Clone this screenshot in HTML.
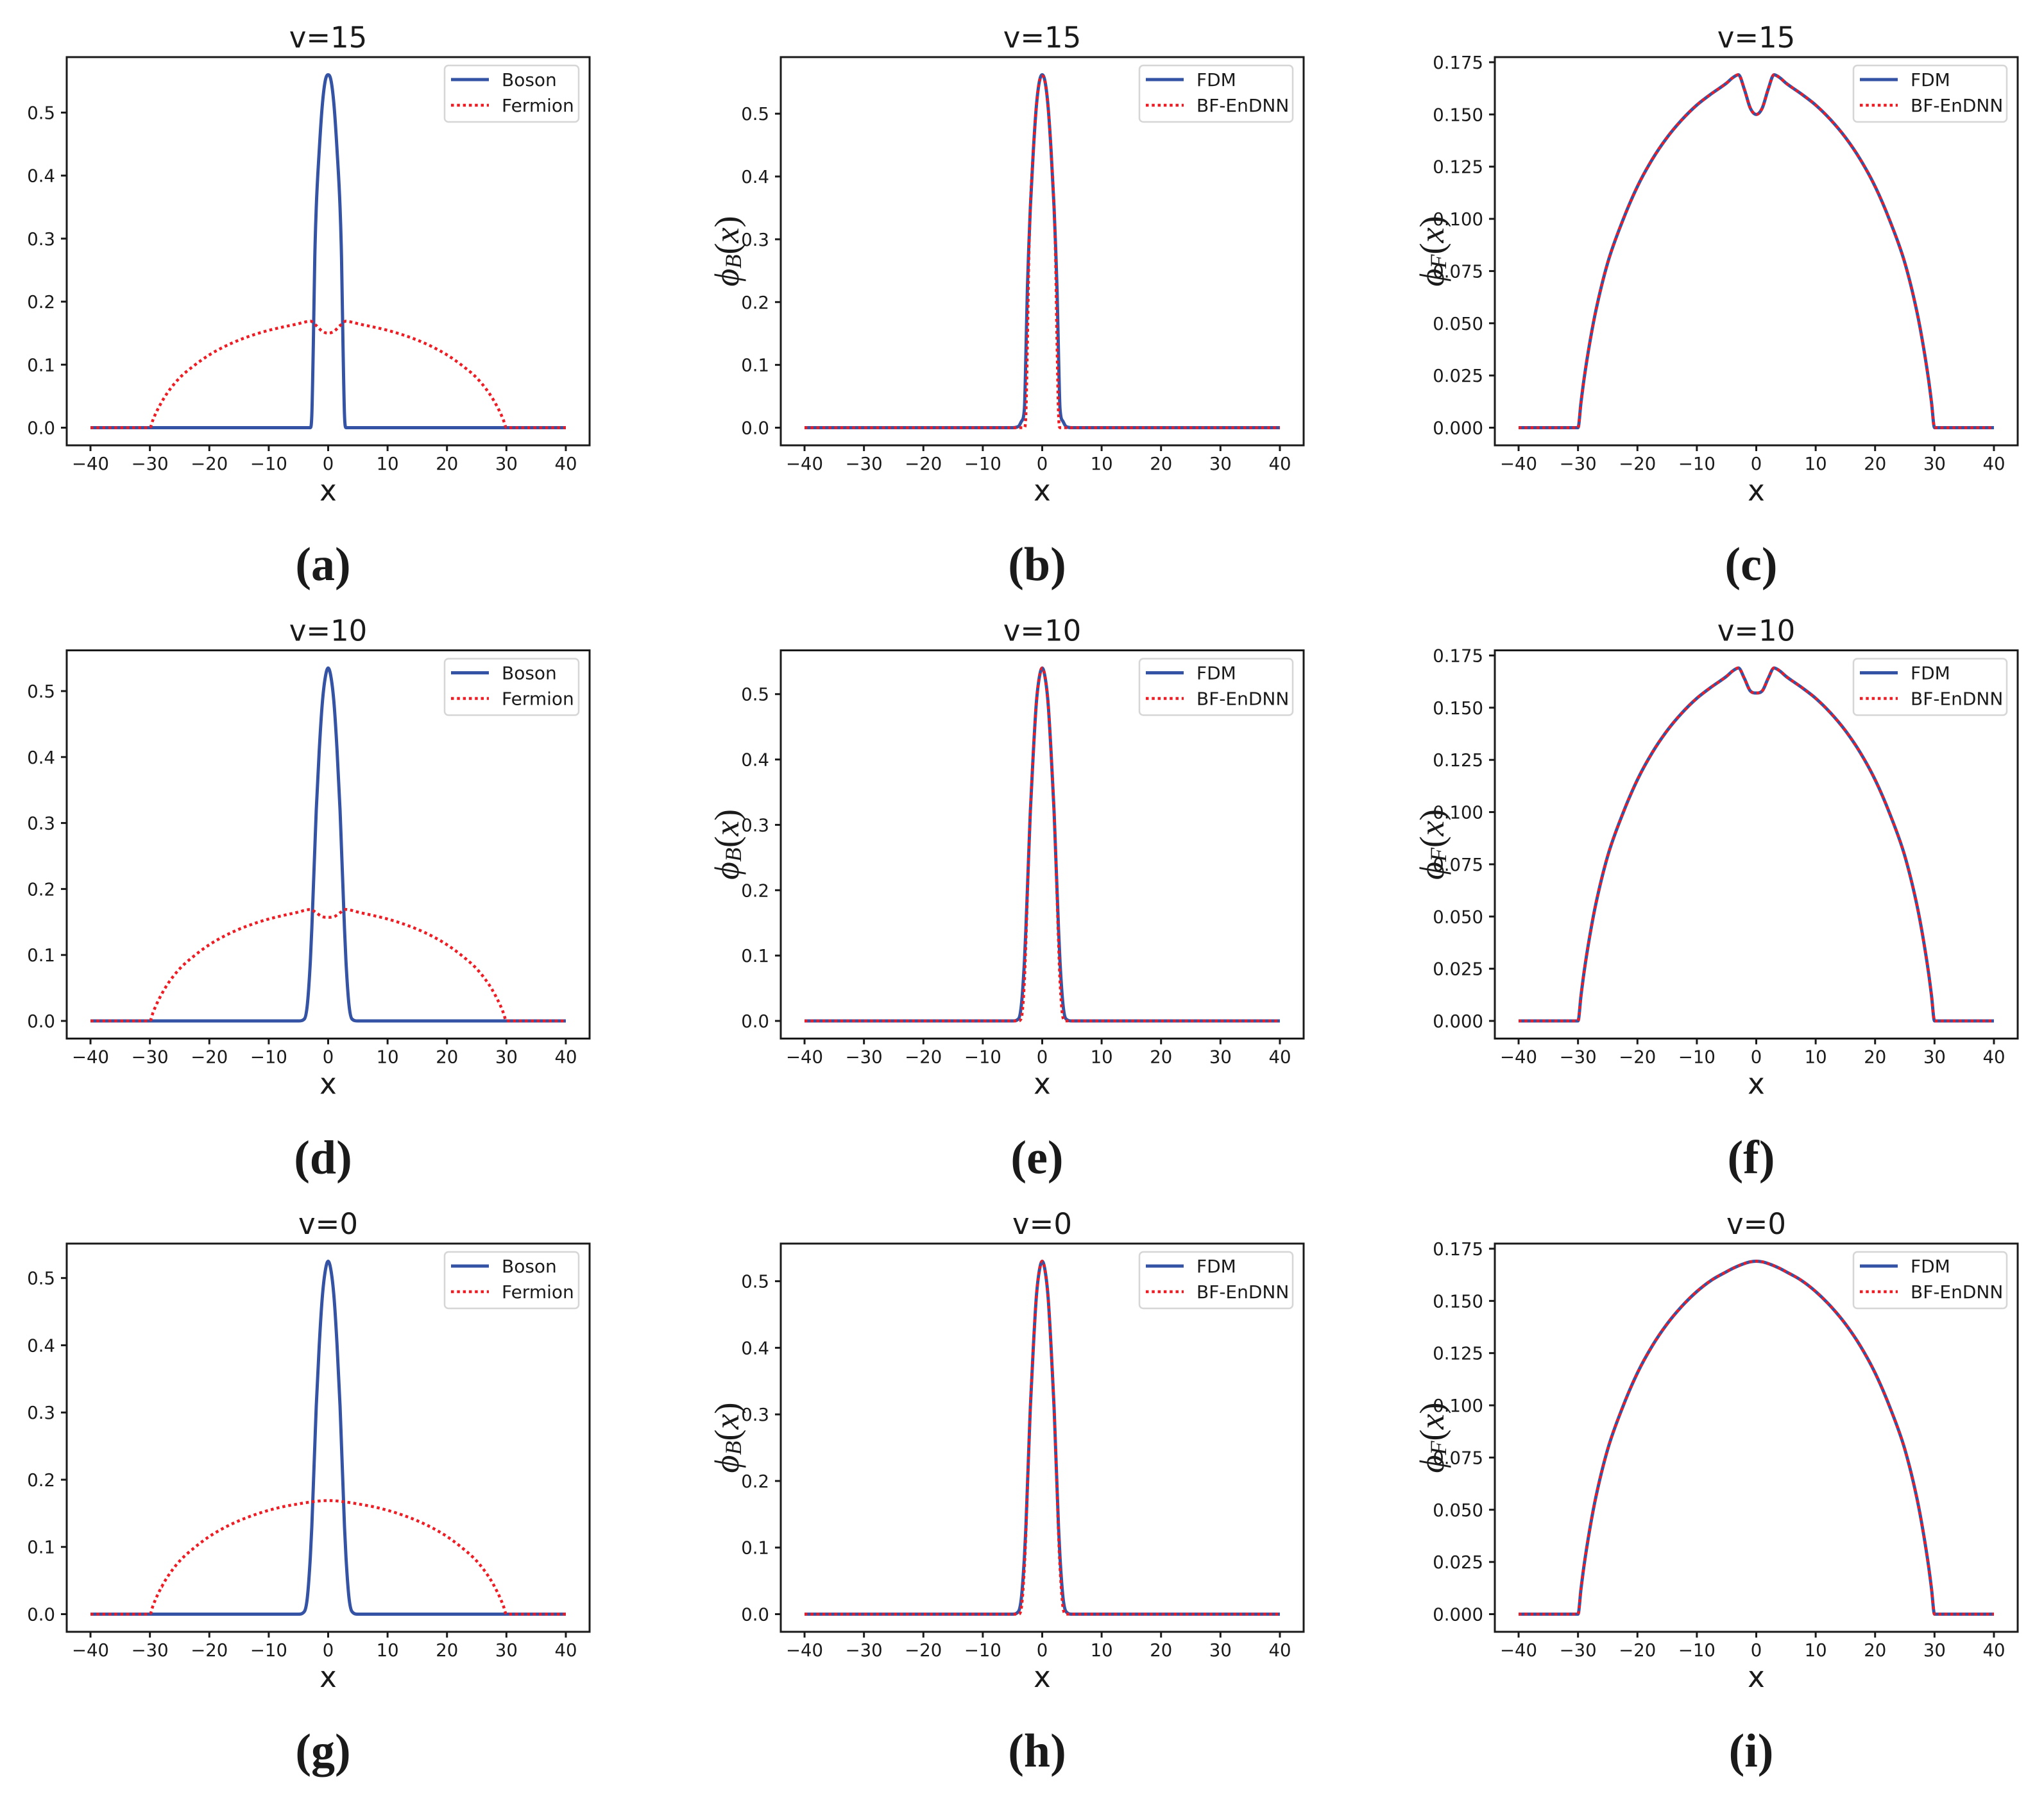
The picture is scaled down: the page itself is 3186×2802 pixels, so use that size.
<!DOCTYPE html>
<html><head><meta charset="utf-8"><title>Boson-Fermion profiles</title>
<style>
html,body{margin:0;padding:0;background:#fff;}
svg{display:block;}
</style></head>
<body>
<svg id="fig" xmlns="http://www.w3.org/2000/svg" width="3186" height="2802" viewBox="0 0 3186 2802"></svg>
<script>
// ---- data ----
const bosonX = [-40,-5,-4,-3.5,-3,-2.75,-2.5,-2.25,-2,-1.5,-1,-0.5,0,0.5,1,1.5,2,2.25,2.5,2.75,3,3.5,4,5,40];
const bosonSharpV15 = [0,0,0,0,0,0.02,0.13,0.27,0.35,0.44,0.51,0.55,0.56,0.55,0.51,0.44,0.35,0.27,0.13,0.02,0,0,0,0,0];
const bosonFdmV15   = [0,0,0.002,0.01,0.03,0.115,0.22,0.29,0.35,0.44,0.51,0.55,0.562,0.55,0.51,0.44,0.35,0.29,0.22,0.115,0.03,0.01,0.002,0,0];
const bosonV10      = [0,0,0.003,0.025,0.09,0.14,0.2,0.26,0.32,0.41,0.48,0.52,0.535,0.52,0.48,0.41,0.32,0.26,0.2,0.14,0.09,0.025,0.003,0,0];
const bosonFdmV10   = [0,0,0.003,0.025,0.09,0.14,0.2,0.26,0.32,0.41,0.485,0.525,0.54,0.525,0.485,0.41,0.32,0.26,0.2,0.14,0.09,0.025,0.003,0,0];
const bosonNetV10   = [0,0,0,0.005,0.06,0.12,0.19,0.26,0.32,0.41,0.485,0.525,0.54,0.525,0.485,0.41,0.32,0.26,0.19,0.12,0.06,0.005,0,0,0];
const bosonV0       = [0,0,0.004,0.025,0.085,0.13,0.19,0.25,0.31,0.4,0.47,0.51,0.525,0.51,0.47,0.4,0.31,0.25,0.19,0.13,0.085,0.025,0.004,0,0];
const bosonFdmV0    = [0,0,0.004,0.025,0.085,0.13,0.19,0.25,0.31,0.4,0.475,0.515,0.53,0.515,0.475,0.4,0.31,0.25,0.19,0.13,0.085,0.025,0.004,0,0];
const bosonNetV0    = [0,0,0,0.01,0.07,0.12,0.185,0.25,0.31,0.4,0.475,0.515,0.53,0.515,0.475,0.4,0.31,0.25,0.185,0.12,0.07,0.01,0,0,0];

const fermionX = [-40,-30,-29.5,-29,-28,-27,-25,-22.5,-20,-17.5,-15,-12.5,-10,-7.5,-5,-4,-3,-2,-1,0,1,2,3,4,5,7.5,10,12.5,15,17.5,20,22.5,25,27,28,29,29.5,30,40];
const fermionV15 = [0,0,0.012,0.023,0.041,0.056,0.079,0.099,0.1155,0.1285,0.139,0.1475,0.1545,0.16,0.165,0.1675,0.169,0.162,0.153,0.15,0.153,0.162,0.169,0.1675,0.165,0.16,0.1545,0.1475,0.139,0.1285,0.1155,0.099,0.079,0.056,0.041,0.023,0.012,0,0];
const fermionV10 = [0,0,0.012,0.023,0.041,0.056,0.079,0.099,0.1155,0.1285,0.139,0.1475,0.1545,0.16,0.165,0.1675,0.169,0.164,0.158,0.157,0.158,0.164,0.169,0.1675,0.165,0.16,0.1545,0.1475,0.139,0.1285,0.1155,0.099,0.079,0.056,0.041,0.023,0.012,0,0];
const fermionV0  = [0,0,0.012,0.023,0.041,0.056,0.079,0.099,0.1155,0.1285,0.139,0.1475,0.1545,0.16,0.164,0.1655,0.1668,0.1679,0.1687,0.169,0.1687,0.1679,0.1668,0.1655,0.164,0.16,0.1545,0.1475,0.139,0.1285,0.1155,0.099,0.079,0.056,0.041,0.023,0.012,0,0];

const xTicks = [-40,-30,-20,-10,0,10,20,30,40];
const yTicksB = [0,0.1,0.2,0.3,0.4,0.5];
const yTicksF = [0,0.025,0.05,0.075,0.1,0.125,0.15,0.175];
const titles = ["v=15","v=10","v=0"];
const subLabels = ["(a)","(b)","(c)","(d)","(e)","(f)","(g)","(h)","(i)"];

// ---- layout ----
const NS = "http://www.w3.org/2000/svg";
const svg = document.getElementById('fig');
const colLeft = [104,1217,2330], rowTop = [89,1013.5,1938];
const AW = 815, AH = 605;
const BLUE = "#3453a4", RED = "#f01c24";
const SANS = '"DejaVu Sans","Liberation Sans",sans-serif';

function el(tag, attrs, parent){
  const e = document.createElementNS(NS, tag);
  for (const k in attrs) e.setAttribute(k, attrs[k]);
  (parent||svg).appendChild(e);
  return e;
}
function txt(s, attrs, parent){ const t = el('text', attrs, parent); t.textContent = s; return t; }

function monoPath(xs, ys){
  const n = xs.length, m = new Array(n).fill(0), d = [];
  for (let i=0;i<n-1;i++) d.push((ys[i+1]-ys[i])/(xs[i+1]-xs[i]));
  m[0]=d[0]; m[n-1]=d[n-2];
  for (let i=1;i<n-1;i++){ m[i] = (d[i-1]*d[i] <= 0) ? 0 : (d[i-1]+d[i])/2; }
  for (let i=0;i<n-1;i++){
    if (d[i]===0){ m[i]=0; m[i+1]=0; continue; }
    const a=m[i]/d[i], b=m[i+1]/d[i], s=a*a+b*b;
    if (s>9){ const t=3/Math.sqrt(s); m[i]=t*a*d[i]; m[i+1]=t*b*d[i]; }
  }
  let p = "M"+xs[0].toFixed(2)+","+ys[0].toFixed(2);
  for (let i=0;i<n-1;i++){
    const h=(xs[i+1]-xs[i])/3;
    p += " C"+(xs[i]+h).toFixed(2)+","+(ys[i]+m[i]*h).toFixed(2)+" "+(xs[i+1]-h).toFixed(2)+","+(ys[i+1]-m[i+1]*h).toFixed(2)+" "+xs[i+1].toFixed(2)+","+ys[i+1].toFixed(2);
  }
  return p;
}

const panels = [
  {r:0,c:0,kind:'ab',series:[[bosonX,bosonSharpV15,'boson'],[fermionX,fermionV15,'fermion']],leg:["Boson","Fermion"]},
  {r:0,c:1,kind:'B', series:[[bosonX,bosonFdmV15,'fdm'],[bosonX,bosonSharpV15,'bf-endnn']],leg:["FDM","BF-EnDNN"]},
  {r:0,c:2,kind:'F', series:[[fermionX,fermionV15,'fdm'],[fermionX,fermionV15,'bf-endnn']],leg:["FDM","BF-EnDNN"]},
  {r:1,c:0,kind:'ab',series:[[bosonX,bosonV10,'boson'],[fermionX,fermionV10,'fermion']],leg:["Boson","Fermion"]},
  {r:1,c:1,kind:'B', series:[[bosonX,bosonFdmV10,'fdm'],[bosonX,bosonNetV10,'bf-endnn']],leg:["FDM","BF-EnDNN"]},
  {r:1,c:2,kind:'F', series:[[fermionX,fermionV10,'fdm'],[fermionX,fermionV10,'bf-endnn']],leg:["FDM","BF-EnDNN"]},
  {r:2,c:0,kind:'ab',series:[[bosonX,bosonV0,'boson'],[fermionX,fermionV0,'fermion']],leg:["Boson","Fermion"]},
  {r:2,c:1,kind:'B', series:[[bosonX,bosonFdmV0,'fdm'],[bosonX,bosonNetV0,'bf-endnn']],leg:["FDM","BF-EnDNN"]},
  {r:2,c:2,kind:'F', series:[[fermionX,fermionV0,'fdm'],[fermionX,fermionV0,'bf-endnn']],leg:["FDM","BF-EnDNN"]}
];

panels.forEach((P, idx) => {
  const L = colLeft[P.c], T = rowTop[P.r], B = T+AH, R = L+AW;
  const g = el('g', {});
  
  
  let ymax = -Infinity, ymin = Infinity;
  P.series.forEach(s => s[1].forEach(v => { ymax=Math.max(ymax,v); ymin=Math.min(ymin,v); }));
  const yr = ymax-ymin, y0 = ymin-0.05*yr, y1 = ymax+0.05*yr;
  const sx = v => L + (v+44)/88*AW;
  const sy = v => B - (v-y0)/(y1-y0)*AH;
  const t = txt(titles[P.r], {x:L+AW/2, y:T-15, 'text-anchor':'middle', 'font-family':SANS, 'font-size':45, fill:'#1a1a1a'}, g);
  
  
  P.series.forEach((s, si) => {
    const xs = s[0].map(sx), ys = s[1].map(sy);
    const path = el('path', {d:monoPath(xs, ys), fill:'none'}, g);
    if (si===0){ path.setAttribute('stroke',BLUE); path.setAttribute('stroke-width',5); path.setAttribute('stroke-linejoin','round'); }
    else { path.setAttribute('stroke',RED); path.setAttribute('stroke-width',4.5); path.setAttribute('stroke-dasharray','4.5 4.8'); }
    
    
  });
  const fr = el('rect', {x:L, y:T, width:AW, height:AH, fill:'none', stroke:'#1a1a1a', 'stroke-width':3}, g);
  
  
  xTicks.forEach(v => {
    const X = sx(v);
    el('line', {x1:X, y1:B, x2:X, y2:B+9, stroke:'#1a1a1a', 'stroke-width':3}, g);
    const tl = txt((v<0?'\u2212':'')+Math.abs(v), {x:X, y:B+38, 'text-anchor':'middle', 'font-family':SANS, 'font-size':27.5, fill:'#1a1a1a'}, g);
    
    
  });
  const yt = P.kind==='F' ? yTicksF : yTicksB;
  yt.forEach(v => {
    const Y = sy(v);
    el('line', {x1:L-9, y1:Y, x2:L, y2:Y, stroke:'#1a1a1a', 'stroke-width':3}, g);
    const tl = txt(P.kind==='F' ? v.toFixed(3) : v.toFixed(1), {x:L-18, y:Y+10, 'text-anchor':'end', 'font-family':SANS, 'font-size':27.5, fill:'#1a1a1a'}, g);
    
    
  });
  const xl = txt('x', {x:L+AW/2, y:T+691, 'text-anchor':'middle', 'font-family':SANS, 'font-size':45, fill:'#1a1a1a'}, g);
  
  
  if (P.kind!=='ab'){
    const cx = P.kind==='B' ? L-84 : L-98, cy = T+AH/2;
    const yl = el('text', {x:cx, y:cy, transform:'rotate(-90 '+cx+' '+cy+')', 'text-anchor':'middle', 'dominant-baseline':'central', 'font-family':'"Liberation Serif",serif', 'font-style':'italic', 'font-size':54, fill:'#1a1a1a'}, g);
    
    
    const t1 = el('tspan', {}, yl); t1.textContent='\u03D5';
    const t2 = el('tspan', {'font-size':36, dy:10}, yl); t2.textContent = P.kind==='B'?'B':'F';
    const t3 = el('tspan', {dy:-10, 'font-style':'normal'}, yl); t3.textContent='(';
    const t4 = el('tspan', {}, yl); t4.textContent='x';
    const t5 = el('tspan', {'font-style':'normal'}, yl); t5.textContent=')';
  }
  const lw = P.kind==='ab' ? 209 : 239;
  const lx = R-17-lw, ly = T+13;
  const lg = el('g', {}, g);
  
  
  el('rect', {x:lx, y:ly, width:lw, height:88, rx:6, fill:'#fff', stroke:'#d6d6d6', 'stroke-width':2.5}, lg);
  P.leg.forEach((name, i) => {
    const yy = ly + 32 + i*40;
    const ln = el('line', {x1:lx+10, y1:yy-10, x2:lx+69, y2:yy-10, stroke: i===0?BLUE:RED, 'stroke-width': i===0?5:4.5}, lg);
    if (i===1) ln.setAttribute('stroke-dasharray','4.5 4.8');
    const et = txt(name, {x:lx+89, y:yy, 'font-family':SANS, 'font-size':28, fill:'#1a1a1a'}, lg);
    
    
  });
  const sl = txt(subLabels[idx], {x:L+AW/2-8, y:T+815, 'text-anchor':'middle', 'font-family':'"Liberation Serif",serif', 'font-weight':'bold', 'font-size':74, fill:'#1a1a1a'}, g);
  
  
});
</script>
</body></html>
